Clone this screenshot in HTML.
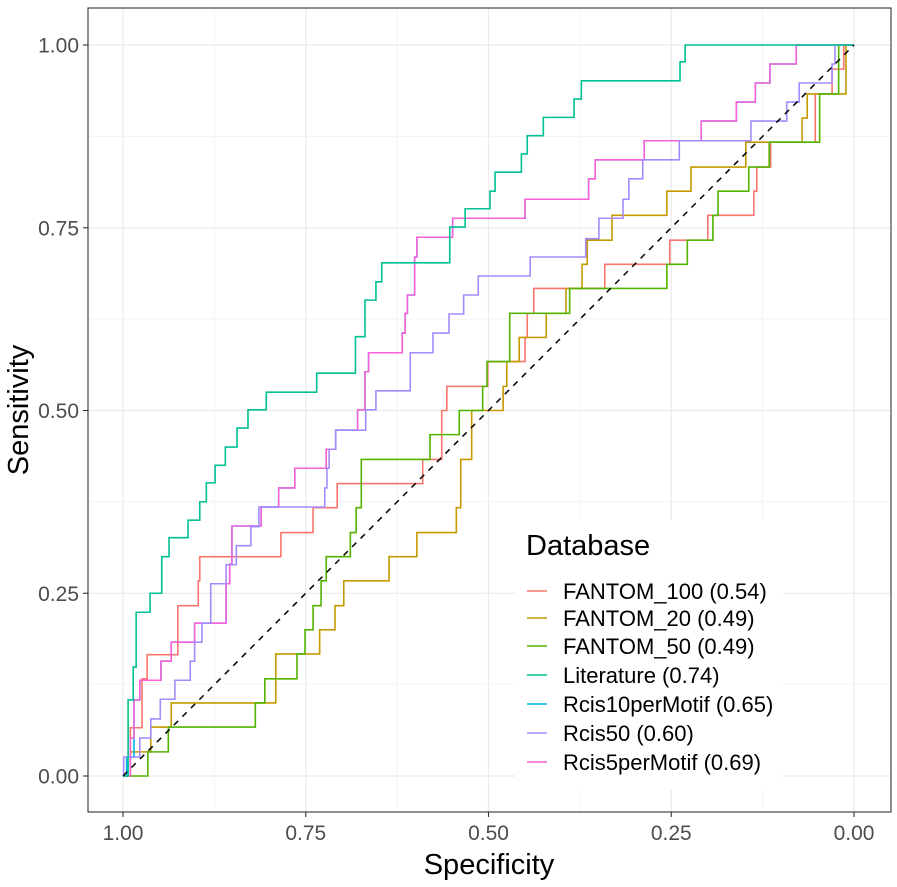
<!DOCTYPE html>
<html><head><meta charset="utf-8"><style>
body{margin:0;background:#fff;}
svg{display:block;font-family:"Liberation Sans",sans-serif;}
</style></head><body>
<svg id="chart" width="897" height="887" viewBox="0 0 897 887">
<rect x="0" y="0" width="897" height="887" fill="#fff"/>
<g id="grid"></g>
<g id="series"></g>
<rect x="88" y="8" width="803" height="804" fill="none" stroke="#333" stroke-width="1.1"/>
<g id="axes"></g>
<text x="489" y="874" text-anchor="middle" font-size="29" fill="#000">Specificity</text>
<text transform="translate(28,410) rotate(-90)" text-anchor="middle" font-size="29" fill="#000">Sensitivity</text>
<g id="legend"></g>
</svg>
<script>
const seriesNames = ["FANTOM_100 (0.54)","FANTOM_20 (0.49)","FANTOM_50 (0.49)","Literature (0.74)","Rcis10perMotif (0.65)","Rcis50 (0.60)","Rcis5perMotif (0.69)"];
const majorTicks = [1.00,0.75,0.50,0.25,0.00];
const tickLabels = ["1.00","0.75","0.50","0.25","0.00"];
const minorTicks = [0.875,0.625,0.375,0.125];

const fantom100Spec = [0.990,0.974,0.967,0.925,0.897,0.895,0.784,0.740,0.707,0.590,0.564,0.557,0.501,0.450,0.447,0.438,0.341,0.252,0.200,0.137,0.133,0.114,0.053,0.030,0.014];
const fantom100Sens = [0.066,0.133,0.166,0.233,0.267,0.300,0.333,0.367,0.400,0.433,0.500,0.533,0.567,0.600,0.633,0.667,0.700,0.733,0.767,0.800,0.833,0.867,0.933,0.967,1.000];
const fantom20Spec = [0.990,0.962,0.934,0.791,0.731,0.710,0.698,0.636,0.598,0.544,0.538,0.523,0.480,0.475,0.458,0.421,0.394,0.372,0.365,0.331,0.256,0.223,0.148,0.071,0.064,0.011];
const fantom20Sens = [0.033,0.067,0.100,0.167,0.200,0.233,0.267,0.300,0.333,0.367,0.433,0.500,0.533,0.567,0.600,0.633,0.667,0.700,0.733,0.767,0.800,0.833,0.867,0.900,0.933,1.000];
const fantom50Spec = [0.966,0.938,0.819,0.806,0.762,0.751,0.740,0.729,0.722,0.689,0.681,0.674,0.580,0.540,0.508,0.502,0.471,0.389,0.256,0.228,0.193,0.186,0.144,0.116,0.047,0.021];
const fantom50Sens = [0.033,0.067,0.100,0.133,0.167,0.200,0.233,0.267,0.300,0.333,0.367,0.433,0.467,0.500,0.533,0.567,0.633,0.667,0.700,0.733,0.767,0.800,0.833,0.867,0.933,1.000];
const literatureSpec = [0.993,0.986,0.982,0.963,0.947,0.937,0.911,0.895,0.886,0.874,0.860,0.844,0.829,0.804,0.735,0.682,0.669,0.654,0.646,0.553,0.532,0.498,0.491,0.455,0.447,0.425,0.383,0.373,0.238,0.231];
const literatureSens = [0.104,0.149,0.224,0.250,0.300,0.326,0.350,0.375,0.401,0.425,0.450,0.476,0.501,0.525,0.551,0.601,0.651,0.676,0.702,0.751,0.776,0.800,0.826,0.851,0.876,0.901,0.926,0.951,0.977,1.000];
const rcis5Spec = [0.990,0.985,0.977,0.948,0.934,0.902,0.859,0.854,0.851,0.811,0.787,0.765,0.722,0.709,0.679,0.669,0.664,0.618,0.614,0.611,0.601,0.598,0.549,0.450,0.363,0.354,0.287,0.209,0.161,0.135,0.115,0.079];
const rcis5Sens = [0.052,0.104,0.131,0.157,0.183,0.209,0.263,0.290,0.342,0.368,0.394,0.421,0.447,0.473,0.501,0.553,0.579,0.606,0.633,0.658,0.710,0.737,0.763,0.789,0.817,0.843,0.869,0.896,0.922,0.948,0.974,1.000];
const rcis10Spec = [0.995,0.985,0.977,0.948,0.934,0.902,0.859,0.854,0.851,0.811,0.787,0.765,0.722,0.709,0.679,0.669,0.664,0.618,0.614,0.611,0.601,0.598,0.549,0.450,0.363,0.354,0.287,0.209,0.161,0.135,0.115,0.079];
const rcis10Sens = [0.026,0.104,0.131,0.157,0.183,0.209,0.263,0.290,0.342,0.368,0.394,0.421,0.447,0.473,0.501,0.553,0.579,0.606,0.633,0.658,0.710,0.737,0.763,0.789,0.817,0.843,0.869,0.896,0.922,0.948,0.974,1.000];
const rcis50Spec = [0.999,0.977,0.962,0.949,0.929,0.908,0.902,0.892,0.880,0.859,0.845,0.825,0.814,0.724,0.721,0.718,0.709,0.668,0.654,0.607,0.576,0.554,0.534,0.514,0.443,0.367,0.349,0.316,0.308,0.289,0.239,0.141,0.092,0.075,0.030,0.026];
const rcis50Sens = [0.026,0.052,0.078,0.105,0.131,0.157,0.183,0.209,0.263,0.289,0.315,0.341,0.368,0.394,0.421,0.447,0.473,0.501,0.527,0.579,0.606,0.632,0.658,0.684,0.710,0.735,0.763,0.789,0.817,0.843,0.869,0.896,0.922,0.948,0.974,1.000];

const colors = ["#F8766D","#C49A00","#53B400","#00C094","#00B6EB","#A58AFF","#FB61D7"];
const xs = s => 123 + (1 - s) * 731;
const ys = v => 776 - v * 731;
const NS = "http://www.w3.org/2000/svg";
function mk(tag, attrs, parent){const e=document.createElementNS(NS,tag);for(const k in attrs)e.setAttribute(k,attrs[k]);parent.appendChild(e);return e;}

const grid = document.getElementById('grid');
minorTicks.forEach(t=>{
  const l1 = mk('line',{x1:xs(t),x2:xs(t),y1:8,y2:812,stroke:'#f2f2f2','stroke-width':0.8},grid);
  
  
  const l2 = mk('line',{x1:88,x2:891,y1:ys(t),y2:ys(t),stroke:'#f2f2f2','stroke-width':0.8},grid);
  
  
});
const axes = document.getElementById('axes');
majorTicks.forEach((t,i)=>{
  const l1 = mk('line',{x1:xs(t),x2:xs(t),y1:8,y2:812,stroke:'#ebebeb','stroke-width':1.3},grid);
  
  
  const l2 = mk('line',{x1:88,x2:891,y1:ys(t),y2:ys(t),stroke:'#ebebeb','stroke-width':1.3},grid);
  
  
  const tx = mk('line',{x1:xs(t),x2:xs(t),y1:812,y2:817,stroke:'#333','stroke-width':1.1},axes);
  
  
  const ty = mk('line',{x1:83,x2:88,y1:ys(t),y2:ys(t),stroke:'#333','stroke-width':1.1},axes);
  
  
  const lx = mk('text',{x:xs(t),y:840,'text-anchor':'middle','font-size':21,fill:'#4d4d4d'},axes);
  lx.textContent = tickLabels[i];
  
  
});
[0,0.25,0.5,0.75,1].forEach(t=>{
  const ly = mk('text',{x:79,y:ys(t)+7.5,'text-anchor':'end','font-size':21,fill:'#4d4d4d'},axes);
  ly.textContent = t.toFixed(2);
  
  
});

const series = document.getElementById('series');
const diag = mk('line',{x1:xs(1),y1:ys(0),x2:xs(0),y2:ys(1),stroke:'#000','stroke-width':1.5,'stroke-dasharray':'6,6'},series);



const data = [[fantom100Spec,fantom100Sens],[fantom20Spec,fantom20Sens],[fantom50Spec,fantom50Sens],[literatureSpec,literatureSens],[rcis10Spec,rcis10Sens],[rcis50Spec,rcis50Sens],[rcis5Spec,rcis5Sens]];
const lineNames = ['fantom-100-line','fantom-20-line','fantom-50-line','literature-line','rcis10permotif-line','rcis50-line','rcis5permotif-line'];
const order = [0,1,2,4,6,5,3];
order.forEach(i=>{
  const [sp,se] = data[i];
  let prev = 0;
  let d = `M${xs(1)},${ys(0)}`;
  for(let k=0;k<sp.length;k++){
    d += ` L${xs(sp[k])},${ys(prev)} L${xs(sp[k])},${ys(se[k])}`;
    prev = se[k];
  }
  d += ` L${xs(0)},${ys(prev)}`;
  const p = mk('path',{d:d,fill:'none',stroke:colors[i],'stroke-width':1.6},series);
  
  
});
series.appendChild(diag);

const legend = document.getElementById('legend');
const bg = mk('rect',{x:515,y:520,width:268,height:270,fill:'#fff'},legend);


const title = mk('text',{x:526,y:555,'font-size':29,fill:'#000'},legend);
title.textContent = 'Database';


const rowY = [591,618,646,675,704,733,762];
seriesNames.forEach((n,i)=>{
  const g = mk('g',{},legend);
  
  
  const k = mk('line',{x1:527,x2:547,y1:rowY[i],y2:rowY[i],stroke:colors[i],'stroke-width':1.6},g);
  
  
  const t = mk('text',{x:563,y:rowY[i]+8,'font-size':22,fill:'#000',textLength:0},g);
  t.removeAttribute('textLength');
  t.textContent = n;
  
  
});
</script>
</body></html>
